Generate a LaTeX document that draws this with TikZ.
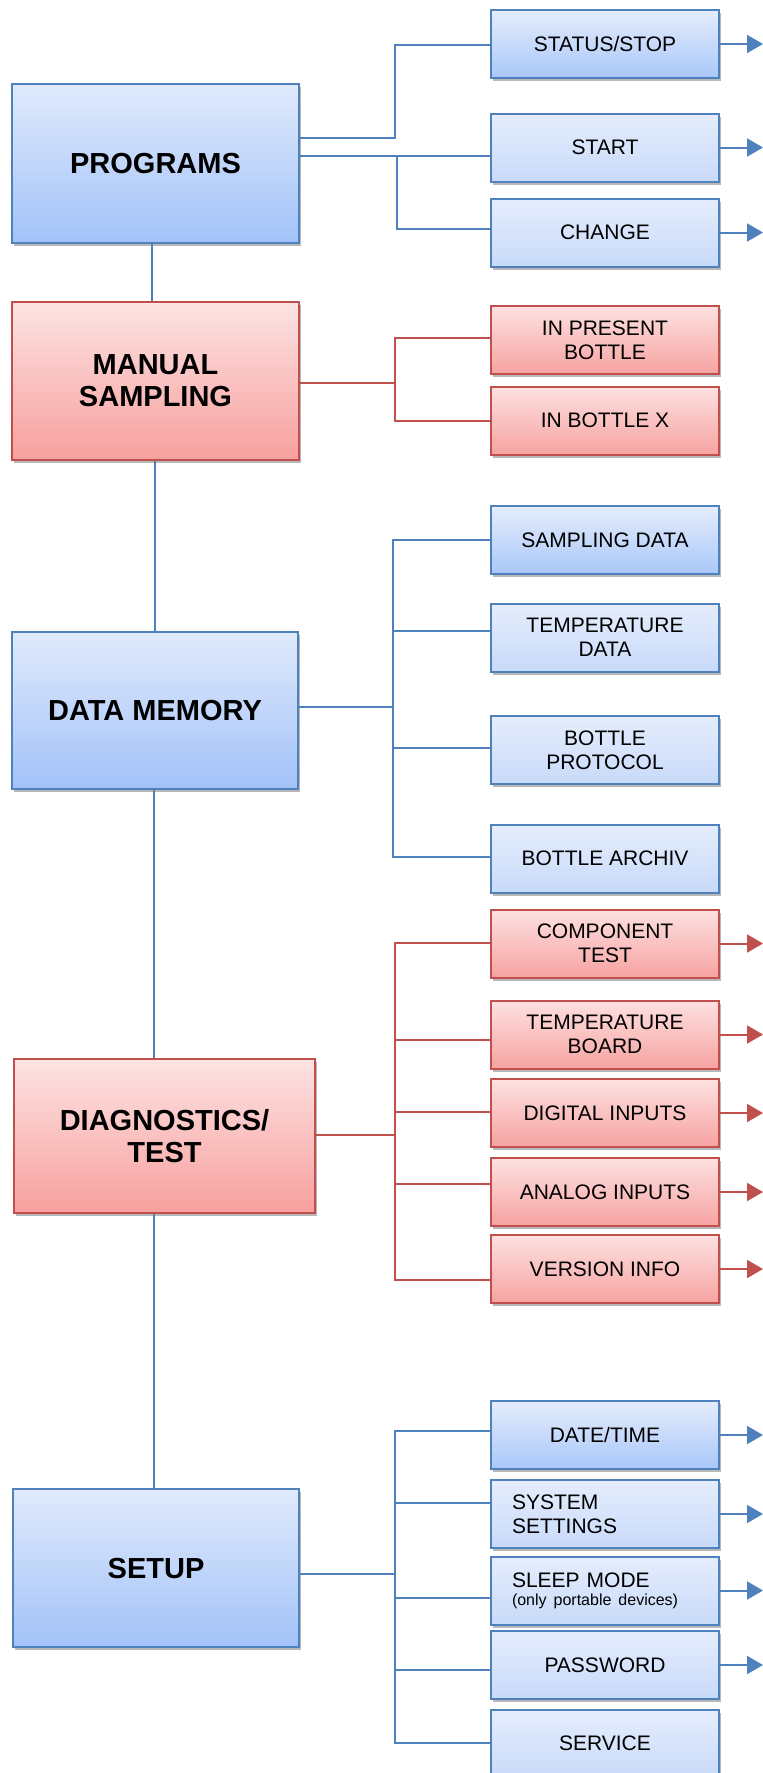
\documentclass[tikz,border=0pt]{standalone}
\usepackage{fontspec}
\setmainfont{Liberation Sans}
\usetikzlibrary{arrows.meta,shadows}
\definecolor{bline}{HTML}{4F81BD}
\definecolor{rline}{HTML}{C0504D}
\definecolor{bmtop}{HTML}{E0EAFC}
\definecolor{bmbot}{HTML}{A2C2F8}
\definecolor{rmtop}{HTML}{FDE3E3}
\definecolor{rmbot}{HTML}{F7A09E}
\definecolor{bstop}{HTML}{E5EDFC}
\definecolor{bsbot}{HTML}{C8DAFA}
\definecolor{bdbot}{HTML}{A9C7F9}
\definecolor{rstop}{HTML}{FDE1E1}
\definecolor{rsbot}{HTML}{F6A3A1}
\tikzset{
  shade/.style={drop shadow={shadow xshift=1pt,shadow yshift=-1.6pt,opacity=0.28,fill=black}},
  mainbox/.style={draw, line width=1pt, inner sep=0pt, align=center,
    font=\fontsize{14.5}{16}\selectfont\bfseries, shade},
  bluemain/.style={mainbox, draw=bline, top color=bmtop, bottom color=bmbot},
  redmain/.style={mainbox, draw=rline, top color=rmtop, bottom color=rmbot},
  subbox/.style={draw, line width=1pt, inner sep=0pt, align=center,
    minimum width=114pt, minimum height=34pt,
    font=\fontsize{10.5}{12}\selectfont, shade},
  bluesub/.style={subbox, draw=bline, top color=bstop, bottom color=bsbot},
  bluesubd/.style={subbox, draw=bline, top color=bstop, bottom color=bdbot},
  redsub/.style={subbox, draw=rline, top color=rstop, bottom color=rsbot},
  leftsub/.style={align=left, text width=93pt, inner xsep=10.5pt},
  bcon/.style={draw=bline, line width=0.9pt},
  rcon/.style={draw=rline, line width=0.9pt},
  trunk/.style={draw=bline, line width=0.8pt},
  barr/.style={draw=bline, line width=1pt, -{Triangle[length=8pt,width=9pt]}},
  rarr/.style={draw=rline, line width=1pt, -{Triangle[length=8pt,width=9pt]}},
}
\begin{document}
\begin{tikzpicture}[x=0.5pt,y=-0.5pt]
\useasboundingbox (0,0) rectangle (763,1773);
\clip (0,0) rectangle (763,1773);

% main boxes
\node[bluemain, minimum width=143.5pt, minimum height=79.5pt] (prog) at (155.5,163.5) {PROGRAMS};
\node[redmain, minimum width=143.5pt, minimum height=79pt] (ms) at (155.5,381) {MANUAL\\SAMPLING};
\node[bluemain, minimum width=143pt, minimum height=78.5pt] (dm) at (155,710.5) {DATA MEMORY};
\node[redmain, minimum width=150.5pt, minimum height=77pt] (diag) at (164.5,1136) {DIAGNOSTICS/\\TEST};
\node[bluemain, minimum width=143pt, minimum height=79pt] (setup) at (156,1568) {SETUP};

% sub boxes
\node[bluesubd] (status) at (605,44) {STATUS/STOP};
\node[bluesub] (start) at (605,147.5) {START};
\node[bluesub] (change) at (605,232.5) {CHANGE};
\node[redsub] (ipb) at (605,340) {IN PRESENT\\BOTTLE};
\node[redsub] (ibx) at (605,420.5) {IN BOTTLE X};
\node[bluesubd] (sd) at (605,540) {SAMPLING DATA};
\node[bluesub] (td) at (605,637.5) {TEMPERATURE\\DATA};
\node[bluesub] (bp) at (605,750) {BOTTLE\\PROTOCOL};
\node[bluesub] (ba) at (605,858.5) {BOTTLE ARCHIV};
\node[redsub] (ct) at (605,943.5) {COMPONENT\\TEST};
\node[redsub] (tb) at (605,1034.5) {TEMPERATURE\\BOARD};
\node[redsub] (di) at (605,1113) {DIGITAL INPUTS};
\node[redsub] (ai) at (605,1192) {ANALOG INPUTS};
\node[redsub] (vi) at (605,1269) {VERSION INFO};
\node[bluesubd] (dt) at (605,1435) {DATE/TIME};
\node[bluesub, leftsub] (ss) at (605,1514) {\mbox{SYSTEM}\\\mbox{SETTINGS}};
\node[bluesub, leftsub] (sm) at (605,1590.5) {\mbox{SLEEP MODE}\\[-3pt]\mbox{\fontsize{8}{9.6}\selectfont (only portable devices)}};
\node[bluesub] (pw) at (605,1665) {PASSWORD};
\node[bluesub] (sv) at (605,1743.5) {SERVICE};

% trunk
\draw[trunk] (prog.south -| 152,0) -- (ms.north -| 152,0);
\draw[trunk] (ms.south -| 155,0) -- (dm.north -| 155,0);
\draw[trunk] (dm.south -| 154,0) -- (diag.north -| 154,0);
\draw[trunk] (diag.south -| 154,0) -- (setup.north -| 154,0);

% PROGRAMS connectors
\draw[bcon] (prog.east |- 0,138) -| (395,45) -- (status.west |- 0,45);
\draw[bcon] (prog.east |- 0,156) -- (start.west |- 0,156);
\draw[bcon] (397,156) |- (change.west |- 0,229);

% MANUAL SAMPLING connectors
\draw[rcon] (ms.east |- 0,383) -- (395,383);
\draw[rcon] (ipb.west |- 0,338) -| (395,421) -- (ibx.west |- 0,421);

% DATA MEMORY connectors
\draw[bcon] (dm.east |- 0,707) -- (393,707);
\draw[bcon] (sd.west |- 0,540) -| (393,857) -- (ba.west |- 0,857);
\draw[bcon] (393,631) -- (td.west |- 0,631);
\draw[bcon] (393,748) -- (bp.west |- 0,748);

% DIAGNOSTICS connectors
\draw[rcon, line width=1.4pt] (diag.east |- 0,1135) -- (395,1135);
\draw[rcon] (ct.west |- 0,943) -| (395,1280) -- (vi.west |- 0,1280);
\draw[rcon] (395,1040) -- (tb.west |- 0,1040);
\draw[rcon] (395,1112) -- (di.west |- 0,1112);
\draw[rcon] (395,1184) -- (ai.west |- 0,1184);

% SETUP connectors
\draw[bcon] (setup.east |- 0,1574) -- (395,1574);
\draw[bcon] (dt.west |- 0,1431) -| (395,1743) -- (sv.west |- 0,1743);
\draw[bcon] (395,1503) -- (ss.west |- 0,1503);
\draw[bcon] (395,1598) -- (sm.west |- 0,1598);
\draw[bcon] (395,1670) -- (pw.west |- 0,1670);

% right arrows
\foreach \n in {status,start,change,dt,ss,sm,pw}
  \draw[barr] (\n.east) -- ++(43,0);
\foreach \n in {ct,tb,di,ai,vi}
  \draw[rarr] (\n.east) -- ++(43,0);
\end{tikzpicture}
\end{document}
